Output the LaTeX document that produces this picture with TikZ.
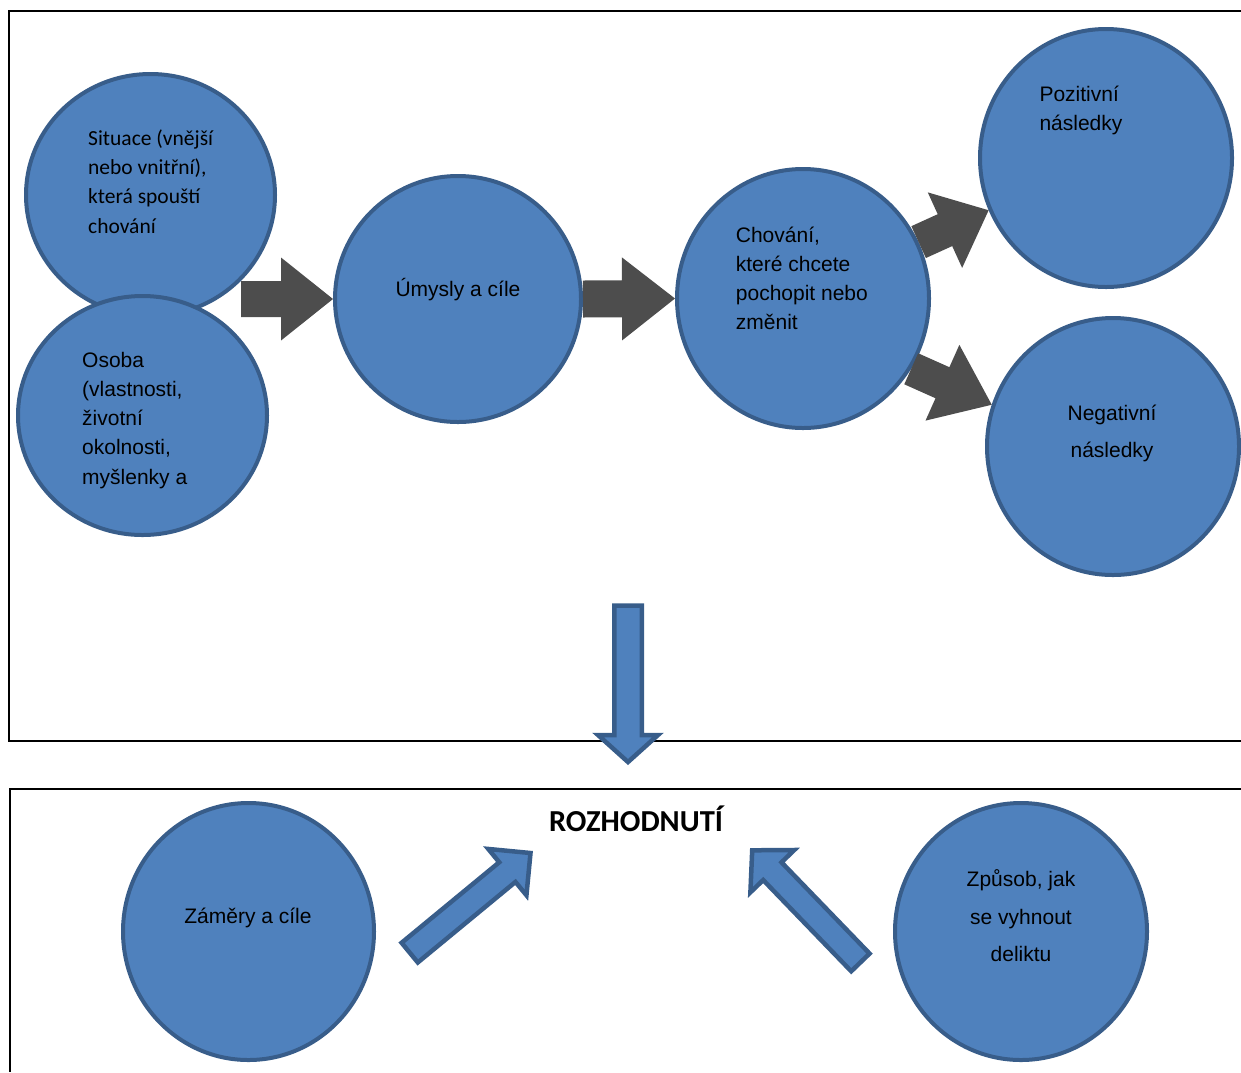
\documentclass[tikz,border=0pt]{standalone}
\usepackage{fontspec}
\setmainfont{Liberation Sans}
\newfontfamily\calibri{Carlito}
\usetikzlibrary{calc,shapes.geometric}

\definecolor{bubfill}{HTML}{4F81BD}
\definecolor{bubline}{HTML}{385D8A}
\definecolor{arrgray}{HTML}{4D4D4D}

% block arrow: style, tail, tip, half shaft, half head, head length
\newcommand\blockarrow[6]{%
  \coordinate (ba) at ($(#3)!#6!(#2)$);
  \path[#1] ($(#2)!#4!90:(#3)$) -- ($(ba)!#4!90:(#3)$) -- ($(ba)!#5!90:(#3)$)
    -- (#3) -- ($(ba)!#5!-90:(#3)$) -- ($(ba)!#4!-90:(#3)$)
    -- ($(#2)!#4!-90:(#3)$) -- cycle;
}

\begin{document}
\begin{tikzpicture}[x=1pt, y=1pt,
  bub/.style={ellipse, draw=bubline, fill=bubfill, line width=4pt, inner sep=0pt},
  txt/.style={inner sep=0pt, align=left, font=\fontsize{21}{29}\selectfont},
  garr/.style={fill=arrgray},
  barr/.style={fill=bubfill, draw=bubline, line width=4.5pt, line join=miter},
  boxline/.style={draw=black, line width=1.2pt}]
  \useasboundingbox (0,0) rectangle (1241,-1072);

  \draw[boxline] (1241,-11) -- (9,-11) -- (9,-741) -- (1241,-741);
  \draw[boxline] (1241,-789) -- (10,-789) -- (10,-1072);

  \node[bub, minimum width=249, minimum height=242] (sit) at (150.5,-195) {};
  \node[bub, minimum width=249, minimum height=239] (oso) at (142.5,-415.5) {};
  \node[bub, minimum width=246, minimum height=246] (ums) at (458,-299) {};
  \node[bub, minimum width=252, minimum height=259] (chov) at (803,-298.5) {};
  \node[bub, minimum width=252, minimum height=258] (poz) at (1106,-158) {};
  \node[bub, minimum width=252, minimum height=257] (neg) at (1113,-446.5) {};
  \node[bub, minimum width=251, minimum height=257] (zam) at (248.5,-931.5) {};
  \node[bub, minimum width=252, minimum height=257] (zpu) at (1021,-931.5) {};

  \node[txt, anchor=north west, font=\calibri\fontsize{21.5}{29.4}\selectfont] (sitT) at (88,-124.4)
    {\strut Situace (vnější\\nebo vnitřní),\\která spouští\\chování};
  \node[txt, anchor=north west, font=\fontsize{21}{29.2}\selectfont] (osoT) at (82,-346.6)
    {\strut Osoba\\(vlastnosti,\\životní\\okolnosti,\\myšlenky a};
  \node[txt, anchor=base] (umsT) at (458,-296) {Úmysly a cíle};
  \node[txt, anchor=north west] (chovT) at (735.7,-222)
    {\strut Chování,\\které chcete\\pochopit nebo\\změnit};
  \node[txt, anchor=north west, font=\fontsize{21}{28.3}\selectfont] (pozT) at (1039.3,-81.9)
    {\strut Pozitivní\\následky};
  \node[txt, anchor=north, align=center, font=\fontsize{21}{37.7}\selectfont] (negT) at (1112,-393.6)
    {\strut Negativní\\následky};
  \node[txt, anchor=base] (zamT) at (248,-923.3) {Záměry a cíle};
  \node[txt, anchor=north, align=center, font=\fontsize{21}{37.5}\selectfont] (zpuT) at (1021,-860.4)
    {\strut Způsob, jak\\se vyhnout\\deliktu};
  \node[txt, anchor=base, font=\calibri\bfseries\fontsize{30.5}{36}\selectfont] (rozh) at (636,-831)
    {ROZHODNUTÍ};

  % sede sipky
  \coordinate (g1) at (241,-299);
  \blockarrow{garr}{g1}{ums.west}{18pt}{41.5pt}{52pt}
  \blockarrow{garr}{ums.east}{chov.west}{18.5pt}{41.5pt}{53pt}
  \blockarrow{garr}{chov.26}{poz.204}{17.5pt}{41.5pt}{48pt}
  \blockarrow{garr}{chov.-33}{neg.161}{17pt}{41.5pt}{54pt}

  % modre sipky
  \coordinate (dt) at (628,-605.5);
  \coordinate (dh) at (628,-762);
  \coordinate (ut) at (409.7,-952.6);
  \coordinate (uh) at (530.5,-853);
  \coordinate (vt) at (860.4,-962.4);
  \coordinate (vh) at (752.2,-850.3);
  \blockarrow{barr}{dt}{dh}{13.75pt}{30pt}{27pt}
  \blockarrow{barr}{ut}{uh}{12.75pt}{30pt}{30pt}
  \blockarrow{barr}{vt}{vh}{12.75pt}{30.5pt}{29pt}
\end{tikzpicture}
\end{document}
